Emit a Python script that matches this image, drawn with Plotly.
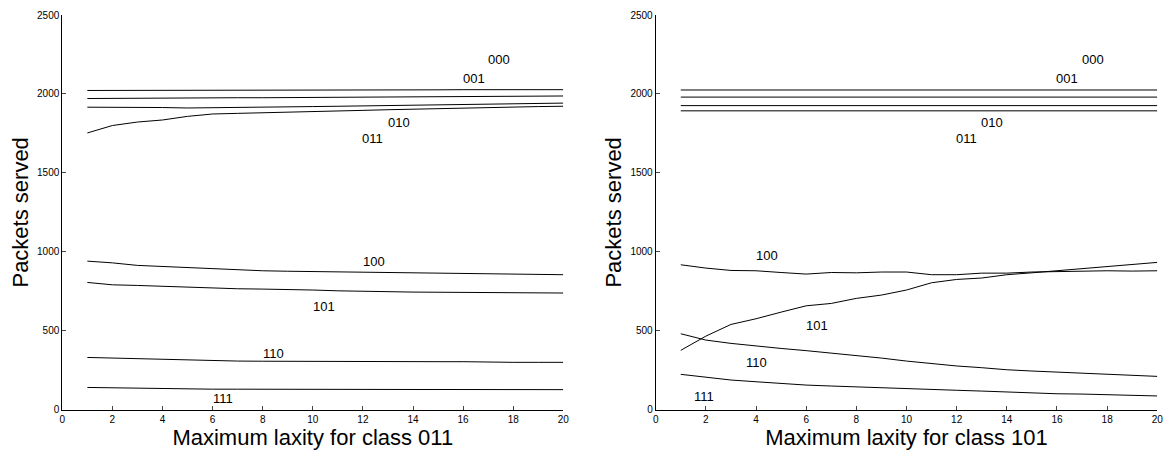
import plotly.graph_objects as go

laxity = list(range(1, 21))

# Left panel: varying maximum laxity for class 011
left_000 = [2022, 2022, 2023, 2023, 2024, 2024, 2025, 2025, 2025, 2025, 2026, 2026, 2026, 2026, 2026, 2027, 2027, 2027, 2027, 2027]
left_001 = [1971, 1972, 1974, 1976, 1978, 1977, 1976, 1976, 1977, 1978, 1979, 1980, 1981, 1982, 1983, 1983, 1984, 1985, 1986, 1987]
left_010 = [1916, 1916, 1915, 1914, 1911, 1912, 1914, 1916, 1918, 1920, 1922, 1924, 1926, 1928, 1930, 1933, 1935, 1938, 1940, 1942]
left_011 = [1753, 1800, 1822, 1835, 1858, 1873, 1877, 1880, 1886, 1890, 1893, 1896, 1900, 1904, 1908, 1911, 1915, 1920, 1920, 1922]
left_100 = [941, 930, 914, 907, 897, 890, 885, 880, 877, 875, 874, 872, 870, 868, 867, 866, 864, 861, 858, 855]
left_101 = [806, 791, 787, 781, 775, 768, 766, 764, 762, 758, 753, 749, 747, 745, 744, 743, 742, 741, 740, 739]
left_110 = [331, 327, 323, 318, 312, 310, 308, 307, 306, 306, 305, 305, 305, 304, 304, 304, 300, 300, 300, 300]
left_111 = [141, 138, 135, 133, 131, 130, 130, 129, 129, 129, 128, 128, 128, 128, 128, 127, 127, 127, 127, 127]

# Right panel: varying maximum laxity for class 101
right_000 = [2025] * 20
right_001 = [1980] * 20
right_010 = [1926] * 20
right_011 = [1893] * 20
right_100 = [918, 897, 882, 880, 869, 859, 869, 867, 872, 872, 855, 855, 865, 865, 872, 876, 880, 880, 878, 880]
right_101 = [376, 466, 540, 576, 618, 658, 673, 705, 726, 758, 804, 825, 834, 855, 867, 880, 892, 905, 920, 933]
right_110 = [481, 441, 420, 403, 388, 374, 359, 342, 327, 308, 291, 277, 266, 253, 245, 239, 230, 224, 217, 211]
right_111 = [224, 207, 188, 177, 165, 156, 150, 144, 137, 131, 125, 123, 118, 112, 108, 101, 99, 95, 91, 87]

class_names = ["000", "001", "010", "011", "100", "101", "110", "111"]
left_series = [left_000, left_001, left_010, left_011, left_100, left_101, left_110, left_111]
right_series = [right_000, right_001, right_010, right_011, right_100, right_101, right_110, right_111]

# Curve label positions (data coordinates)
left_label_x = [17.45, 16.43, 13.43, 12.4, 12.43, 10.44, 8.44, 6.42]
left_label_y = [2218, 2095, 1816, 1718, 941, 656, 354, 70]
right_label_x = [17.44, 16.4, 13.4, 12.4, 4.44, 6.43, 4.0, 1.92]
right_label_y = [2218, 2095, 1816, 1718, 977, 534, 296, 85]

x_ticks = list(range(0, 21, 2))
y_ticks = [0, 500, 1000, 1500, 2000, 2500]

FONT = "Liberation Sans, Arial, sans-serif"

fig = go.Figure()
for name, ys in zip(class_names, left_series):
    fig.add_trace(go.Scatter(x=laxity, y=ys, mode="lines", name=name,
                             line=dict(color="black", width=1), xaxis="x", yaxis="y",
                             showlegend=False, hoverinfo="skip"))
for name, ys in zip(class_names, right_series):
    fig.add_trace(go.Scatter(x=laxity, y=ys, mode="lines", name=name,
                             line=dict(color="black", width=1), xaxis="x2", yaxis="y2",
                             showlegend=False, hoverinfo="skip"))

annotations = []
for name, lx, ly in zip(class_names, left_label_x, left_label_y):
    annotations.append(dict(x=lx, y=ly, xref="x", yref="y", text=name, showarrow=False,
                            font=dict(size=13, color="black", family=FONT)))
for name, lx, ly in zip(class_names, right_label_x, right_label_y):
    annotations.append(dict(x=lx, y=ly, xref="x2", yref="y2", text=name, showarrow=False,
                            font=dict(size=13, color="black", family=FONT)))

W, H = 1163, 453
xdom_left = [62.3 / W, 563.3 / W]
xdom_right = [655.7 / W, 1157.3 / W]
ydom = [1 - 409.7 / H, 1 - 15.0 / H]

xaxis_common = dict(range=[0, 20], tickmode="array", tickvals=x_ticks, ticks="inside", ticklen=4,
                    showline=True, linecolor="black", linewidth=1, showgrid=False, zeroline=False,
                    automargin=False, ticklabeloverflow="allow",
                    tickfont=dict(size=10, family=FONT, color="black"),
                    title_font=dict(size=22, family=FONT, color="black"), title_standoff=2)
yaxis_common = dict(range=[0, 2500], tickmode="array", tickvals=y_ticks, ticks="inside", ticklen=4,
                    showline=True, linecolor="black", linewidth=1, showgrid=False, zeroline=False,
                    automargin=False, ticklabeloverflow="allow",
                    tickfont=dict(size=10, family=FONT, color="black"),
                    title_font=dict(size=22, family=FONT, color="black"), title_standoff=2,
                    domain=ydom)

fig.update_layout(
    width=W, height=H,
    margin=dict(l=0, r=0, t=0, b=0, autoexpand=False),
    paper_bgcolor="white", plot_bgcolor="white",
    xaxis=dict(domain=xdom_left, anchor="y", title_text="Maximum laxity for class 011", **xaxis_common),
    yaxis=dict(anchor="x", title_text="Packets served", **yaxis_common),
    xaxis2=dict(domain=xdom_right, anchor="y2", title_text="Maximum laxity for class 101", **xaxis_common),
    yaxis2=dict(anchor="x2", title_text="Packets served", **yaxis_common),
    annotations=annotations,
)

fig.write_html("out.html", config={"displayModeBar": False},
               post_script="document.body.style.margin='0';document.body.style.overflow='hidden';")
